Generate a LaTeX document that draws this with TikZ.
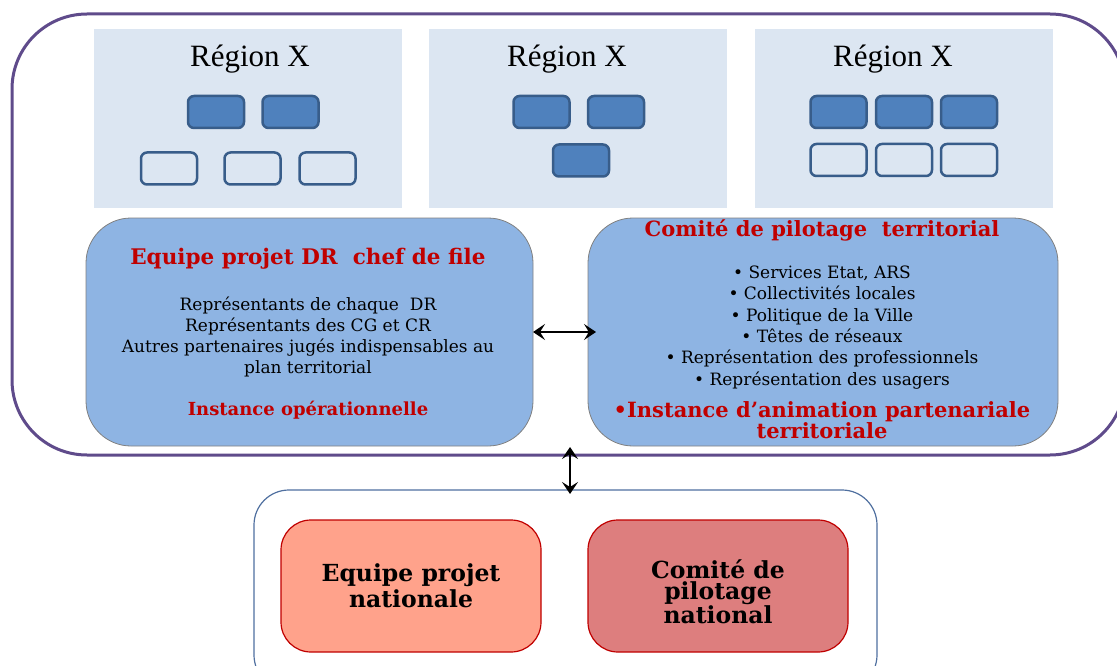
\documentclass[tikz,border=0pt]{standalone}
\usepackage{fontspec}
\setmainfont{DejaVu Serif}
\newfontfamily\regfont{Liberation Serif}
\usetikzlibrary{arrows.meta}
\definecolor{regbg}{HTML}{DCE6F2}
\definecolor{darkbox}{HTML}{4F81BD}
\definecolor{boxline}{HTML}{385D8A}
\definecolor{bluebox}{HTML}{8EB4E3}
\definecolor{purpleline}{HTML}{5F4B8B}
\definecolor{navline}{HTML}{4F6F9F}
\definecolor{titred}{HTML}{C00000}
\definecolor{salmon}{HTML}{FFA28B}
\definecolor{rosebox}{HTML}{DD7E7E}
\tikzset{
  regionbox/.style={fill=regbg, draw=none, inner sep=0pt, outer sep=0pt},
  darkunit/.style={fill=darkbox, draw=boxline, line width=2.5pt, rounded corners=6pt, minimum width=56pt, minimum height=32pt, inner sep=0pt},
  lightunit/.style={fill=regbg, draw=boxline, line width=2.5pt, rounded corners=6pt, minimum width=56pt, minimum height=32pt, inner sep=0pt},
  bigblue/.style={fill=bluebox, draw=gray, line width=0.8pt, rounded corners=45pt, inner sep=0pt, outer sep=0pt},
  natbox/.style={draw=titred, line width=1.2pt, rounded corners=30pt, minimum width=260pt, minimum height=132pt, inner sep=0pt, outer sep=0pt},
  regtitle/.style={font=\regfont\fontsize{31}{33}\selectfont},
  redtitle/.style={text=titred, font=\bfseries\fontsize{21.5}{24}\selectfont},
  bodytext/.style={align=center, font=\fontsize{17}{21.3}\selectfont},
  biarrow/.style={{Stealth[length=12pt,width=16pt,inset=5pt]}-{Stealth[length=12pt,width=16pt,inset=5pt]}, line width=2.6pt},
}
\begin{document}
\begin{tikzpicture}[x=1pt,y=-1pt]
\useasboundingbox (0,0) rectangle (1117,666);
\clip (0,0) rectangle (1117,666);
% outer frame
\node[draw=purpleline, line width=3pt, rounded corners=75pt, minimum width=1113pt, minimum height=441pt, inner sep=0pt] (frame) at (568.5,234.5) {};
% regions
\node[regionbox, minimum width=308pt, minimum height=179pt] (r1) at (248,118.5) {};
\node[regionbox, minimum width=298pt, minimum height=179pt] (r2) at (578,118.5) {};
\node[regionbox, minimum width=298pt, minimum height=179pt] (r3) at (904,118.5) {};
\node[regtitle] (t1) at (250,59.5) {Région X};
\node[regtitle] (t2) at (567,59.5) {Région X};
\node[regtitle] (t3) at (893,59.5) {Région X};
% region 1 units
\node[darkunit] (a1) at (216,112) {};
\node[darkunit] (a2) at (290.5,112) {};
\node[lightunit] (a3) at (169,168.5) {};
\node[lightunit] (a4) at (252.5,168.5) {};
\node[lightunit] (a5) at (327.5,168.5) {};
% region 2 units
\node[darkunit] (b1) at (541.5,112) {};
\node[darkunit] (b2) at (616,112) {};
\node[darkunit] (b3) at (581,160.5) {};
% region 3 units
\node[darkunit] (c1) at (838.5,112) {};
\node[darkunit] (c2) at (904,112) {};
\node[darkunit] (c3) at (969,112) {};
\node[lightunit] (c4) at (838.5,160) {};
\node[lightunit] (c5) at (904,160) {};
\node[lightunit] (c6) at (969,160) {};
% blue boxes
\node[bigblue, minimum width=447pt, minimum height=228pt] (L) at (309.5,332) {};
\node[bigblue, minimum width=470pt, minimum height=228pt] (R) at (823,332) {};
\node[redtitle] (Lt) at (308,259) {Equipe projet DR\ \ chef de file};
\node[bodytext] (Lb) at (308,337) {Représentants de chaque\ \ DR\\Représentants des CG et CR\\Autres partenaires jugés indispensables au\\plan territorial};
\node[text=titred, font=\bfseries\fontsize{18}{20}\selectfont] (Li) at (308,410) {Instance opérationnelle};
\node[redtitle, font=\bfseries\fontsize{21}{24}\selectfont] (Rt) at (822,230) {Comité de pilotage\ \ territorial};
\node[bodytext] (Rb) at (822,327.5) {• Services Etat, ARS\\• Collectivités locales\\• Politique de la Ville\\• Têtes de réseaux\\• Représentation des professionnels\\• Représentation des usagers};
\node[redtitle, align=center, font=\bfseries\fontsize{21}{16}\selectfont] (Ri) at (822,420) {•Instance d’animation partenariale\\territoriale};
% horizontal arrow
\coordinate (ah) at (596,332);
\draw[biarrow] (L.east) -- (ah);
% national frame
\node[draw=navline, line width=1.2pt, rounded corners=35pt, minimum width=623pt, minimum height=200pt, inner sep=0pt] (nat) at (565.5,590) {};
\coordinate (vt) at (570,447);
\coordinate (vb) at (570,494);
\draw[biarrow] (vt) -- (vb);
\node[natbox, fill=salmon] (N1) at (411,586) {};
\node[natbox, fill=rosebox] (N2) at (718,586) {};
\node[align=center, font=\bfseries\fontsize{23.5}{26}\selectfont] at (411,586) {Equipe projet\\nationale};
\node[align=center, font=\bfseries\fontsize{23.5}{21}\selectfont] at (718,592) {Comité de\\pilotage\\national};
\end{tikzpicture}
\end{document}
